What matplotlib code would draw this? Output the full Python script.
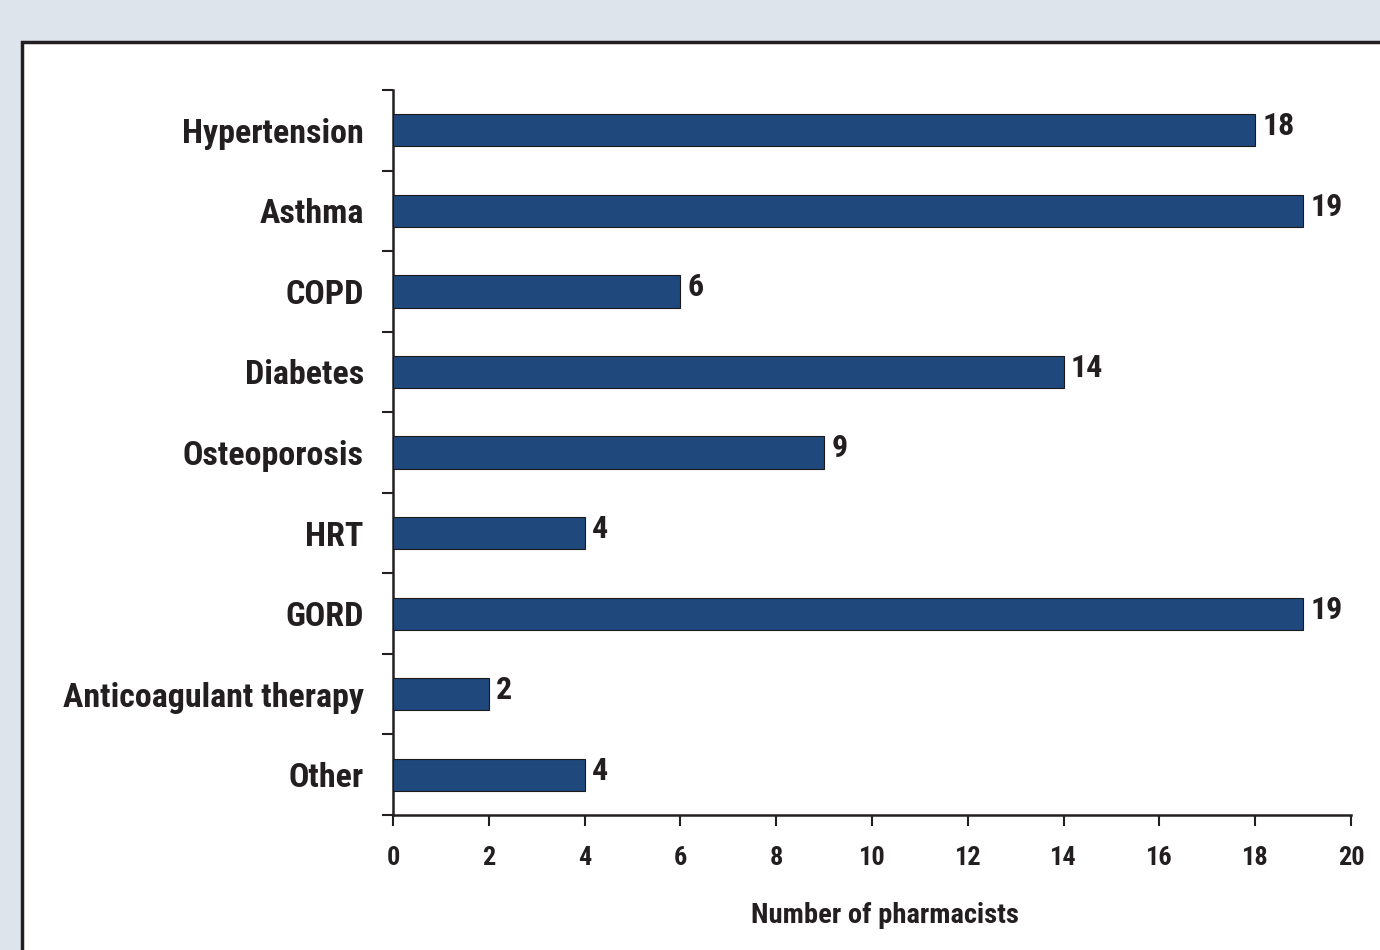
import matplotlib
matplotlib.use("Agg")
import matplotlib.pyplot as plt
from matplotlib import font_manager
from matplotlib.patches import Rectangle

# ---------------------------------------------------------------------------
# Data
# ---------------------------------------------------------------------------

conditions = [
    "Hypertension", "Asthma", "COPD", "Diabetes", "Osteoporosis",
    "HRT", "GORD", "Anticoagulant therapy", "Other",
]
pharmacists = [18, 19, 6, 14, 9, 4, 19, 2, 4]
x_ticks = [0, 2, 4, 6, 8, 10, 12, 14, 16, 18, 20]

BAR_COLOR = "#1f487c"
BG_COLOR = "#dde4ec"
TEXT_COLOR = "#231f20"

# pick a narrow sans if one is available
installed = {f.name for f in font_manager.fontManager.ttflist}
family = "Liberation Sans"
for cand in ["Liberation Sans Narrow", "Roboto Condensed", "Open Sans Condensed"]:
    if cand in installed:
        family = cand
        break
plt.rcParams["font.family"] = [family, "DejaVu Sans"]
plt.rcParams["font.weight"] = "bold"

fig = plt.figure(figsize=(13.8, 9.5), dpi=100)
fig.patch.set_facecolor(BG_COLOR)

# white panel with dark border
panel = Rectangle((22 / 1380, -0.02), 1.0, (950 - 42) / 950 + 0.02,
                  transform=fig.transFigure, facecolor="white",
                  edgecolor="#231f20", linewidth=2.5, zorder=-5)
fig.patches.append(panel)

ax = fig.add_axes([393 / 1380, 1 - 815 / 950, (1351 - 393) / 1380, (815 - 90) / 950])
ax.set_facecolor("none")

pos = list(range(len(conditions)))
ax.barh(pos, pharmacists, height=0.4, color=BAR_COLOR,
        edgecolor="#1a1a1a", linewidth=0.8, zorder=3)

for y, v in zip(pos, pharmacists):
    ax.text(v + 0.15, y - 0.05, str(v), va="center", ha="left",
            fontsize=23, fontweight="bold", color=TEXT_COLOR)

ax.set_xlim(0, 20)
ax.set_ylim(len(conditions) - 0.5, -0.5)
ax.set_xticks(x_ticks)
ax.set_xticklabels([str(t) for t in x_ticks], fontsize=19,
                   fontweight="bold", color=TEXT_COLOR)

# category labels centred on bars, ticks at category boundaries
ax.set_yticks(pos)
ax.set_yticklabels(conditions, fontsize=24.5, fontweight="bold", color=TEXT_COLOR)
ax.tick_params(axis="y", which="major", length=0, pad=21)
ax.set_yticks([p - 0.5 for p in pos] + [len(pos) - 0.5], minor=True)
ax.tick_params(axis="y", which="minor", length=8, width=1.5, color="#231f20",
               direction="out")
ax.tick_params(axis="x", length=8, width=1.5, color="#231f20",
               direction="out", pad=14)

for side in ["top", "right"]:
    ax.spines[side].set_visible(False)
for side in ["left", "bottom"]:
    ax.spines[side].set_linewidth(1.8)
    ax.spines[side].set_color("#231f20")

ax.set_xlabel("Number of pharmacists", fontsize=20.5, fontweight="bold",
              color=TEXT_COLOR)
ax.xaxis.set_label_coords(0.514, -0.12)

fig.savefig("out.png", dpi=100, facecolor=fig.get_facecolor())
